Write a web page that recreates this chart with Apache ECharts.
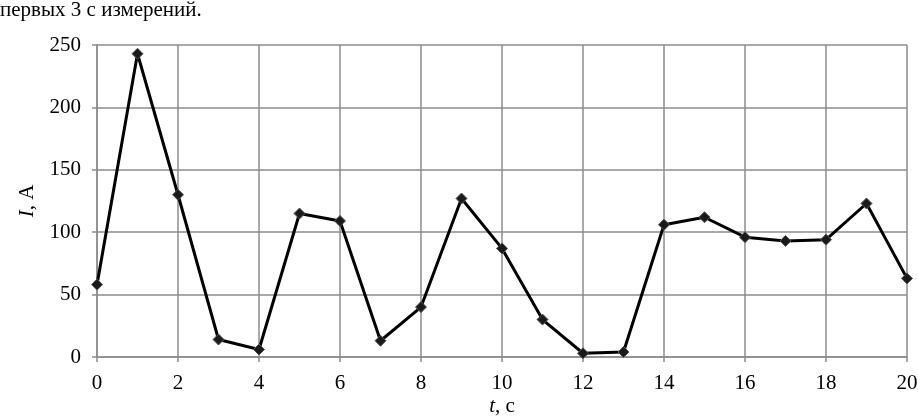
<!DOCTYPE html>
<html>
<head>
<meta charset="utf-8">
<script src="https://cdn.jsdelivr.net/npm/echarts@6/dist/echarts.min.js"></script>
<style>
  html, body { margin: 0; padding: 0; background: #fff; }
  #chart { width: 918px; height: 417px; }
</style>
</head>
<body>
<div id="chart"></div>
<script>
// время, с
const times = [0, 1, 2, 3, 4, 5, 6, 7, 8, 9, 10, 11, 12, 13, 14, 15, 16, 17, 18, 19, 20];
// ток, А
const current = [58, 243, 130, 14, 6, 115, 109, 13, 40, 127, 87, 30, 3, 4, 106, 112, 96, 93, 94, 123, 63];

const font = 'Liberation Serif';
const gridColor = '#8c8c8c';

const chart = echarts.init(document.getElementById('chart'));

chart.setOption({
  animation: false,
  backgroundColor: '#fff',
  textStyle: { fontFamily: font },
  graphic: [{
    type: 'text',
    left: 0,
    top: 0,
    style: {
      text: 'первых 3 с измерений.',
      font: '21px "Liberation Serif"',
      fill: '#000'
    }
  }],
  grid: { left: 97, right: 11, top: 45, bottom: 60, outerBoundsMode: 'none' },
  xAxis: {
    type: 'value',
    min: 0,
    max: 20,
    interval: 2,
    name: '{i|t}, с',
    nameLocation: 'middle',
    nameGap: 39,
    nameMoveOverlap: false,
    nameTextStyle: {
      fontFamily: font, fontSize: 21, color: '#000',
      rich: { i: { fontFamily: font, fontSize: 21, fontStyle: 'italic', color: '#000' } }
    },
    axisLine: { lineStyle: { color: gridColor, width: 1.5 } },
    axisTick: { show: true, length: 5, lineStyle: { color: gridColor, width: 1.5 } },
    axisLabel: { fontFamily: font, fontSize: 21, color: '#000', margin: 16 },
    splitLine: { show: true, lineStyle: { color: gridColor, width: 1.5 } }
  },
  yAxis: {
    type: 'value',
    min: 0,
    max: 250,
    interval: 50,
    name: '{i|I}, А',
    nameLocation: 'middle',
    nameGap: 59,
    nameRotate: 90,
    nameMoveOverlap: false,
    nameTextStyle: {
      fontFamily: font, fontSize: 21, color: '#000',
      rich: { i: { fontFamily: font, fontSize: 21, fontStyle: 'italic', color: '#000' } }
    },
    axisLine: { show: true, lineStyle: { color: gridColor, width: 1.5 } },
    axisTick: { show: true, length: 5, lineStyle: { color: gridColor, width: 1.5 } },
    axisLabel: { fontFamily: font, fontSize: 21, color: '#000', margin: 16 },
    splitLine: { show: true, lineStyle: { color: gridColor, width: 1.5 } }
  },
  series: [{
    type: 'line',
    data: times.map((t, i) => [t, current[i]]),
    symbol: 'diamond',
    symbolSize: 11,
    lineStyle: { color: '#000', width: 3 },
    itemStyle: { color: '#1a1a1a', borderColor: '#555', borderWidth: 1 },
    z: 3
  }]
});
</script>
</body>
</html>
